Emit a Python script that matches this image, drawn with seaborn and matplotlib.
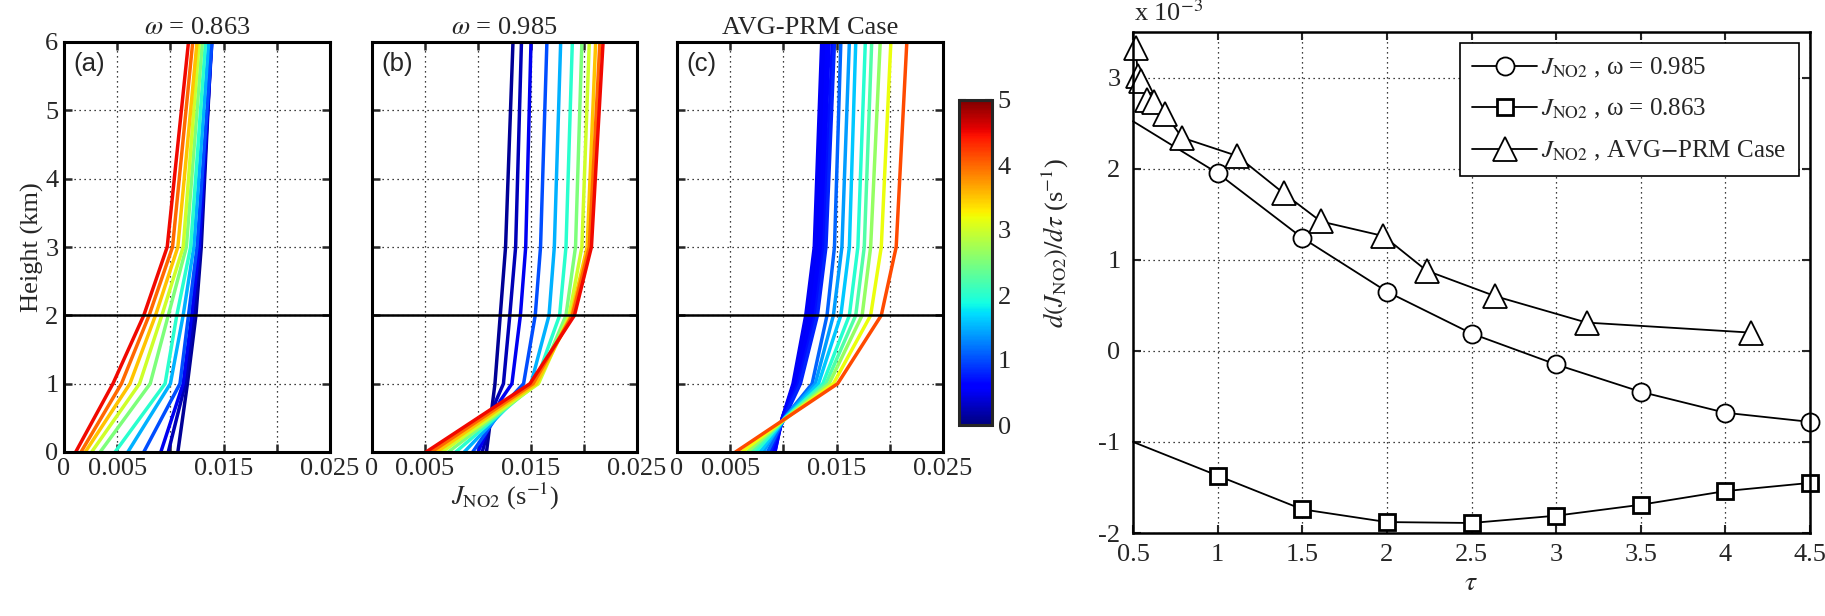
import numpy as np
import pandas as pd
import seaborn as sns
import matplotlib
import matplotlib.pyplot as plt
from matplotlib.colors import Normalize
from matplotlib.cm import ScalarMappable
from matplotlib.lines import Line2D

# ==========================================
# DATA
# ==========================================
# optical depths of the profiles in (a) and (b)
TAU_AB = [0.1, 0.25, 0.5, 1.0, 1.5, 2.0, 2.5, 3.0, 3.5, 4.0, 4.5]

# (a) omega = 0.863 : one row per height level, one column per tau
HEIGHT_A = [0, 1, 2, 3, 6]
J_A = [
    [0.0107, 0.0098, 0.0091, 0.0075, 0.0060, 0.0048, 0.0034, 0.0026, 0.0020, 0.0016, 0.0011],
    [0.0116, 0.0114, 0.0112, 0.0109, 0.0100, 0.0095, 0.0081, 0.0071, 0.0062, 0.0054, 0.0046],
    [0.0124, 0.0122, 0.0120, 0.0117, 0.0112, 0.0106, 0.0098, 0.0092, 0.0086, 0.0080, 0.0075],
    [0.0129, 0.0128, 0.0127, 0.0125, 0.0122, 0.0119, 0.0115, 0.0112, 0.0107, 0.0102, 0.0097],
    [0.01385, 0.01385, 0.0139, 0.0139, 0.0136, 0.0133, 0.0130, 0.0127, 0.0125, 0.0121, 0.0117],
]

# (b) omega = 0.985
HEIGHT_B = [0, 0.75, 1, 2, 3, 6]
J_B = [
    [0.0108, 0.0104, 0.0100, 0.0095, 0.0087, 0.0079, 0.0072, 0.0066, 0.0061, 0.0056, 0.0051],
    [0.0114, 0.0117, 0.0121, 0.0128, 0.0133, 0.0135, 0.0135, 0.0134, 0.0131, 0.0128, 0.01245],
    [0.0116, 0.0124, 0.0132, 0.0143, 0.0150, 0.0154, 0.0156, 0.0157, 0.0155, 0.0152, 0.0149],
    [0.0121, 0.0130, 0.0140, 0.0154, 0.0167, 0.0177, 0.0183, 0.0186, 0.0188, 0.0189, 0.0191],
    [0.0126, 0.01355, 0.0145, 0.0159, 0.0172, 0.0183, 0.0192, 0.0198, 0.0203, 0.0205, 0.0207],
    [0.0133, 0.0141, 0.0150, 0.0165, 0.0178, 0.0189, 0.0198, 0.0205, 0.0211, 0.0215, 0.0218],
]

# (c) AVG-PRM case, optical depths = triangles of the right panel
TAU_AVG = [0.515, 0.53, 0.545, 0.585, 0.625, 0.69, 0.79, 1.115, 1.39, 1.61, 1.98, 2.235, 2.64, 3.18, 4.15]
HEIGHT_C = [0, 0.5, 1, 2, 3, 6]
J_C = [
    [0.0092, 0.0092, 0.0091, 0.0090, 0.0089, 0.0088, 0.0087, 0.0085, 0.0081, 0.0078, 0.0074, 0.0070, 0.0066, 0.0061, 0.0055],
    [0.0099, 0.0099, 0.0099, 0.0100, 0.0100, 0.0100, 0.0101, 0.0101, 0.0101, 0.0102, 0.0102, 0.0102, 0.0103, 0.0103, 0.0103],
    [0.0109, 0.0110, 0.0111, 0.0112, 0.0113, 0.0114, 0.0116, 0.0127, 0.0130, 0.0133, 0.0137, 0.0140, 0.0143, 0.0147, 0.0151],
    [0.0121, 0.0122, 0.0124, 0.0126, 0.0128, 0.0130, 0.0132, 0.0141, 0.0147, 0.0154, 0.0162, 0.0168, 0.0174, 0.0182, 0.0192],
    [0.0129, 0.0130, 0.0132, 0.0134, 0.0136, 0.0138, 0.0140, 0.0148, 0.0155, 0.0162, 0.0170, 0.0176, 0.0182, 0.0192, 0.0206],
    [0.0136, 0.0137, 0.0139, 0.0141, 0.0143, 0.0146, 0.0148, 0.0154, 0.0162, 0.0168, 0.0177, 0.0183, 0.0191, 0.0201, 0.0216],
]

# right panel: d(J_NO2)/d tau in units of 1e-3 s^-1
TAU_R = [0.5, 1.0, 1.5, 2.0, 2.5, 3.0, 3.5, 4.0, 4.5]
D_985 = [2.52, 1.95, 1.24, 0.65, 0.19, -0.15, -0.45, -0.68, -0.78]
D_863 = [-1.00, -1.37, -1.74, -1.88, -1.89, -1.81, -1.69, -1.54, -1.45]
D_AVG = [3.32, 3.02, 2.96, 2.75, 2.73, 2.60, 2.34, 2.14, 1.73, 1.42, 1.26, 0.88, 0.60, 0.31, 0.20]

TITLES = [r"$\omega$ = 0.863", r"$\omega$ = 0.985", "AVG-PRM Case"]
PANEL_TAGS = ["(a)", "(b)", "(c)"]
X_TICKS_L = [0, 0.005, 0.01, 0.015, 0.02, 0.025]
X_TICKLABELS_L = ["0", "0.005", "", "0.015", "", "0.025"]
LEGEND_LABELS = [r"$J_{\mathrm{NO2}}$ , ω = 0.985",
                 r"$J_{\mathrm{NO2}}$ , ω = 0.863",
                 r"$J_{\mathrm{NO2}}$ , AVG$-$PRM Case"]

W, H = 1825, 616
FS = 19
LEG_FS = 18
JET = matplotlib.colormaps["jet"]


def to_long(heights, taus, grid):
    rows = []
    for i, h in enumerate(heights):
        for j, t in enumerate(taus):
            rows.append({"J": grid[i][j], "h": h, "tau": t})
    return pd.DataFrame(rows).sort_values(["tau", "h"], kind="stable")


def box(x0, y0, x1, y1):
    # pixel box (top-left origin) -> figure fraction rect
    return [x0 / W, 1 - y1 / H, (x1 - x0) / W, (y1 - y0) / H]


sns.set_theme(style="ticks")
plt.rcParams["font.family"] = ["Liberation Serif", "DejaVu Serif"]
plt.rcParams["mathtext.fontset"] = "stix"
plt.rcParams["axes.unicode_minus"] = False

fig = plt.figure(figsize=(W / 100, H / 100), dpi=100)

panel_boxes = [(64, 42, 330, 452), (372, 42, 637, 452), (677, 42, 943, 452)]
panel_data = [(HEIGHT_A, TAU_AB, J_A), (HEIGHT_B, TAU_AB, J_B), (HEIGHT_C, TAU_AVG, J_C)]

grid_kw = dict(color="black", linestyle=(0, (1, 3)), linewidth=0.9)

for k, (pb, (hs, taus, grid)) in enumerate(zip(panel_boxes, panel_data)):
    ax = fig.add_axes(box(*pb))
    df = to_long(hs, taus, grid)
    sns.lineplot(data=df, x="J", y="h", hue="tau", palette=JET, hue_norm=Normalize(0, 5),
                 estimator=None, sort=False, legend=False, linewidth=2.5, ax=ax)
    ax.axhline(2, color="black", linewidth=1.8, zorder=5)
    ax.set_xlim(0, 0.025)
    ax.set_ylim(0, 6)
    ax.set_xticks(X_TICKS_L)
    ax.set_xticklabels(X_TICKLABELS_L)
    ax.set_yticks(range(7))
    ax.grid(True, **grid_kw)
    ax.tick_params(direction="in", top=True, right=True, length=6, width=1.8,
                   labelsize=FS, pad=4)
    for s in ax.spines.values():
        s.set_linewidth(2.2)
        s.set_color("black")
    ax.set_title(TITLES[k], fontsize=FS, pad=6)
    ax.text(0.035, 0.975, PANEL_TAGS[k], transform=ax.transAxes, va="top", ha="left",
            fontsize=18.5, family=["Liberation Sans", "DejaVu Sans"])
    ax.set_xlabel("")
    if k == 0:
        ax.set_ylabel("Height (km)", fontsize=FS, labelpad=1)
        ax.set_yticklabels([str(v) for v in range(7)])
    else:
        ax.set_ylabel("")
        ax.set_yticklabels([])
    if k == 1:
        ax.set_xlabel(r"$J_{\mathrm{NO2}}$ (s$^{-1}$)", fontsize=FS, labelpad=1)

# colorbar
cax = fig.add_axes(box(959, 100, 992, 425))
sm = ScalarMappable(norm=Normalize(0, 5), cmap=JET)
cb = fig.colorbar(sm, cax=cax, ticks=range(6))
cb.outline.set_linewidth(2.2)
cax.tick_params(direction="in", length=5, width=1.5, labelsize=FS, left=True, right=True, pad=4)
fig.text(1055 / W, 1 - 243 / H, r"$d(J_{\mathrm{NO2}})/d\tau$ (s$^{-1}$)",
         rotation=90, ha="center", va="center", fontsize=FS)

# right panel
axr = fig.add_axes(box(1133, 32, 1810, 533))
line_kw = dict(color="black", linewidth=1.3, mfc="white", mec="black")
sns.lineplot(x=TAU_R, y=D_985, marker="o", markersize=13, markeredgewidth=1.3,
             markevery=list(range(1, len(TAU_R))), ax=axr, **line_kw)
sns.lineplot(x=TAU_R, y=D_863, marker="s", markersize=11, markeredgewidth=2.0,
             markevery=list(range(1, len(TAU_R))), ax=axr, **line_kw)
sns.lineplot(x=TAU_AVG, y=D_AVG, marker="^", markersize=17, markeredgewidth=1.3,
             ax=axr, **line_kw)
for ln in axr.get_lines():
    ln.set_clip_on(False)
axr.set_xlim(0.5, 4.5)
axr.set_ylim(-2, 3.5)
axr.set_xticks(np.arange(0.5, 4.51, 0.5))
axr.set_xticklabels([f"{v:g}" for v in np.arange(0.5, 4.51, 0.5)])
axr.set_yticks(range(-2, 4))
axr.grid(True, **grid_kw)
axr.tick_params(direction="in", top=True, right=True, length=6, width=1.5,
                labelsize=FS)
axr.tick_params(axis="x", pad=8)
axr.tick_params(axis="y", pad=9)
for s in axr.spines.values():
    s.set_linewidth(1.8)
    s.set_color("black")
axr.set_xlabel("")
axr.set_ylabel("")
fig.text(1471 / W, 1 - 583 / H, r"$\tau$", ha="center", va="center", fontsize=FS + 1)
fig.text(1134 / W, 1 - 0 / H, r"x 10$^{-3}$", ha="left", va="top", fontsize=FS)

handles = [
    Line2D([], [], marker="o", markersize=13, markeredgewidth=1.3, **line_kw),
    Line2D([], [], marker="s", markersize=11, markeredgewidth=2.0, **line_kw),
    Line2D([], [], marker="^", markersize=17, markeredgewidth=1.3, **line_kw),
]
leg = axr.legend(handles, LEGEND_LABELS, loc="upper right", fontsize=LEG_FS,
                 frameon=True, fancybox=False, framealpha=1, edgecolor="black",
                 handlelength=2.6, handletextpad=0.15, borderaxespad=0.45,
                 labelspacing=0.7, borderpad=0.5)
leg.get_frame().set_linewidth(1.2)

fig.savefig("out.png", dpi=100)
